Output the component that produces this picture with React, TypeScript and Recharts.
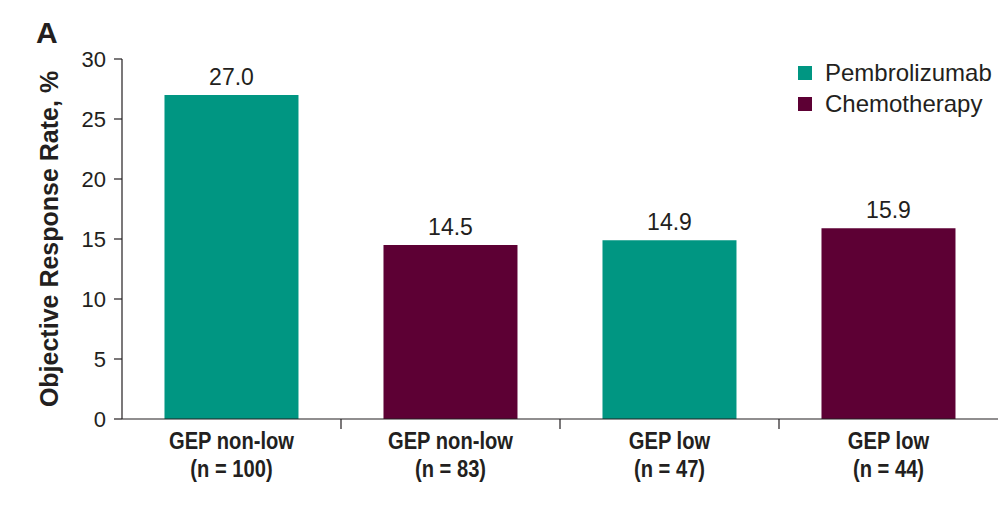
import { BarChart, Bar, XAxis, YAxis, Cell, LabelList, Label } from "recharts";

const groups = ["GEP non-low", "GEP non-low", "GEP low", "GEP low"];
const sampleSizes = ["(n = 100)", "(n = 83)", "(n = 47)", "(n = 44)"];
const responseRates = [27.0, 14.5, 14.9, 15.9];
const treatments = ["Pembrolizumab", "Chemotherapy", "Pembrolizumab", "Chemotherapy"];
const yTicks = [0, 5, 10, 15, 20, 25, 30];

const COLORS: Record<string, string> = {
  Pembrolizumab: "#009682",
  Chemotherapy: "#5d0034",
};
const INK = "#231f20";
const FONT = "'Liberation Sans', Arial, sans-serif";

const data = groups.map((g, i) => ({
  key: `${g}|${sampleSizes[i]}`,
  group: g,
  n: sampleSizes[i],
  rate: responseRates[i],
  treatment: treatments[i],
}));

// category label, condensed like the source figure, plus a divider tick between groups
function CategoryTick(props: any) {
  const { x, y, payload, index } = props;
  const row = data[index];
  const half = payload?.offset ?? 109.5;
  return (
    <g>
      {index > 0 && (
        <line x1={x - half} x2={x - half} y1={y - 10} y2={y} stroke={INK} strokeWidth={1.2} />
      )}
      <text
        transform={`translate(${x} ${y}) scale(0.84 1)`}
        textAnchor="middle"
        fill={INK}
        fontFamily={FONT}
        fontWeight="bold"
        fontSize={24}
      >
        <tspan x={0} dy={20}>{row.group}</tspan>
        <tspan x={0} dy={28}>{row.n}</tspan>
      </text>
    </g>
  );
}

function AxisTitle({ viewBox }: any) {
  const cx = 49;
  const cy = viewBox ? viewBox.y + viewBox.height / 2 : 239;
  return (
    <text
      x={cx}
      y={cy}
      transform={`rotate(-90 ${cx} ${cy})`}
      textAnchor="middle"
      dominantBaseline="central"
      fill={INK}
      fontFamily={FONT}
      fontWeight="bold"
      fontSize={25}
    >
      Objective Response Rate, %
    </text>
  );
}

export default function App() {
  return (
    <div style={{ position: "absolute", left: 0, top: 0, width: 1008, height: 514, background: "#fff" }}>
      <div
        style={{
          position: "absolute",
          left: 36,
          top: 18,
          fontFamily: FONT,
          fontWeight: "bold",
          fontSize: 30,
          lineHeight: "30px",
          color: INK,
        }}
      >
        A
      </div>

      {/* Legend */}
      <div style={{ position: "absolute", left: 798, top: 57, fontFamily: FONT, fontSize: 24, color: INK }}>
        {["Pembrolizumab", "Chemotherapy"].map((t) => (
          <div key={t} style={{ display: "flex", alignItems: "center", height: 31 }}>
            <span style={{ width: 14, height: 14, background: COLORS[t], marginRight: 13 }} />
            <span>{t}</span>
          </div>
        ))}
      </div>

      <BarChart
        width={1008}
        height={514}
        data={data}
        margin={{ top: 59, right: 10, bottom: 0, left: 0 }}
        barCategoryGap="19.4%"
      >
        <XAxis
          dataKey="key"
          height={95}
          interval={0}
          tickLine={false}
          tickSize={10}
          tickMargin={0}
          tick={<CategoryTick />}
          axisLine={{ stroke: INK, strokeWidth: 1.2 }}
        />
        <YAxis
          width={122}
          domain={[0, 30]}
          ticks={yTicks}
          interval={0}
          tickSize={8}
          tickMargin={8}
          axisLine={{ stroke: INK, strokeWidth: 1.2 }}
          tickLine={{ stroke: INK, strokeWidth: 1.2 }}
          tick={{ fill: INK, fontFamily: FONT, fontSize: 22 }}
        >
          <Label content={<AxisTitle />} />
        </YAxis>
        <Bar dataKey="rate" isAnimationActive={false}>
          {data.map((d) => (
            <Cell key={d.key} fill={COLORS[d.treatment]} />
          ))}
          <LabelList
            dataKey="rate"
            position="top"
            offset={10}
            formatter={(v: any) => Number(v).toFixed(1)}
            style={{ fill: INK, fontFamily: FONT, fontSize: 23 }}
          />
        </Bar>
      </BarChart>
    </div>
  );
}
